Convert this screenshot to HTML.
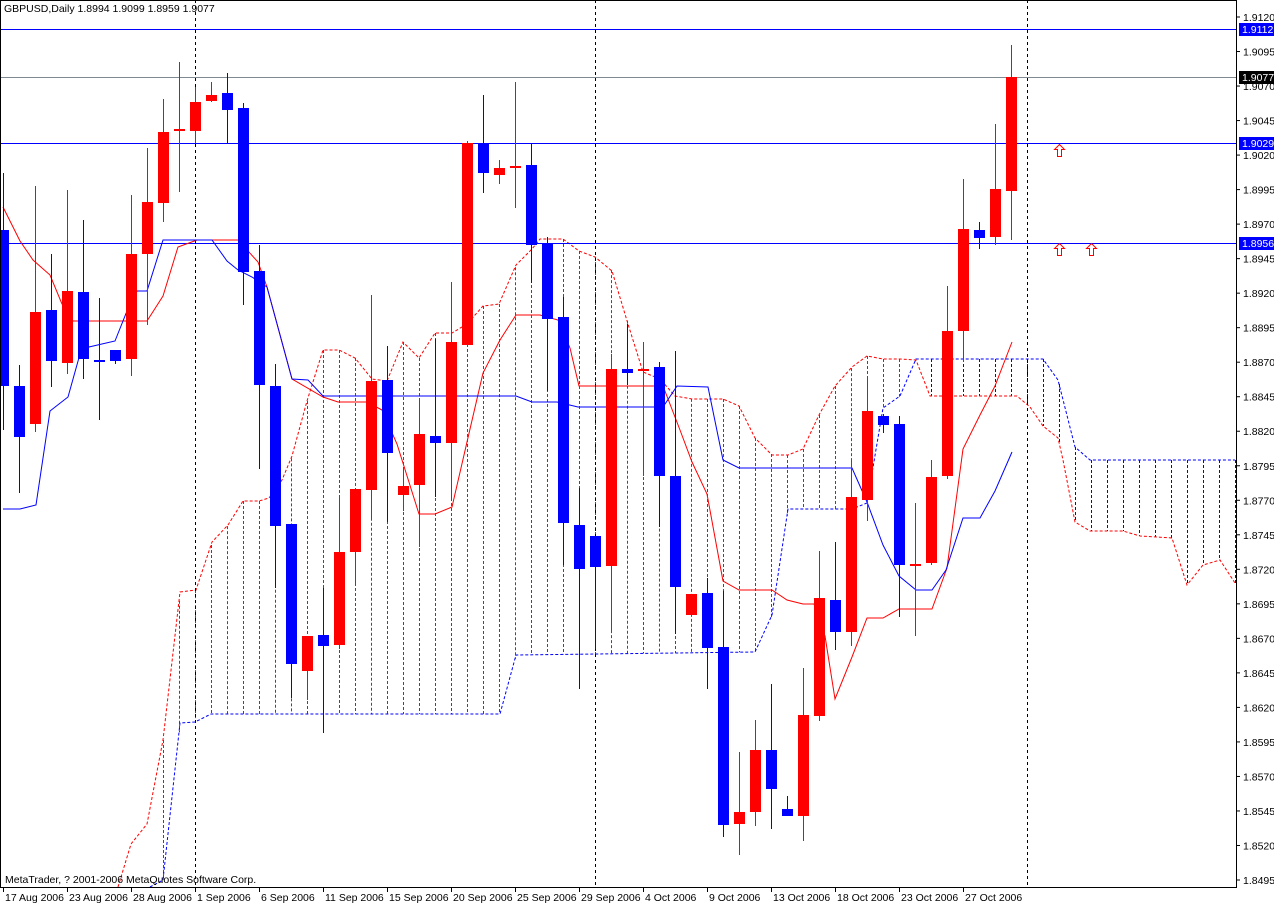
<!DOCTYPE html>
<html><head><meta charset="utf-8">
<style>
html,body{margin:0;padding:0;background:#fff;}
#c{position:absolute;left:0;top:0;}
</style></head>
<body>
<svg id="c" width="1274" height="905" xmlns="http://www.w3.org/2000/svg" font-family="Liberation Sans, sans-serif">
<rect x="0" y="0" width="1274" height="905" fill="#fff"/>
<g id="g"></g>
</svg>
<script>
var NS="http://www.w3.org/2000/svg";var g=document.getElementById("g");
function el(t,a,txt){var e=document.createElementNS(NS,t);for(var k in a)e.setAttribute(k,a[k]);if(txt!=null)e.textContent=txt;g.appendChild(e);return e;}
function pl(pts,col,dash,w){el("polyline",{points:pts.map(function(p){return p[0]+","+p[1]}).join(" "),fill:"none",stroke:col,"stroke-width":w||1,"stroke-dasharray":dash||"none"});}
function interp(P,x){if(x<P[0][0]||x>P[P.length-1][0])return null;for(var i=0;i<P.length-1;i++){if(x>=P[i][0]&&x<=P[i+1][0]){var t=(x-P[i][0])/((P[i+1][0]-P[i][0])||1);return P[i][1]+t*(P[i+1][1]-P[i][1]);}}return null;}
var A=[[118,887],[131,844],[147,824],[163,740],[180,592],[196,590],[212,542],[228,525],[243,501],[259,501],[269,498],[282,480],[292,456],[307,401],[323,350],[339,350],[355,358],[372,379],[387,381],[403,342],[419,358],[435,333],[452,333],[467,324],[483,306],[499,304],[516,265],[532,249],[540,239],[563,239],[579,251],[595,257],[612,271],[628,324],[643,372],[660,379],[675,396],[692,399],[723,399],[739,406],[755,438],[772,455],[788,455],[803,449],[819,415],[835,386],[852,367],[867,356],[883,359],[900,359],[916,360],[930,396],[1017,396],[1030,407],[1043,426],[1058,438],[1063,460],[1075,522],[1090,531],[1123,531],[1140,536],[1172,538],[1187,585],[1203,565],[1220,560],[1235,583]];
var B=[[150,887],[163,880],[180,723],[195,722],[211,714],[500,714],[516,655],[755,652],[772,615],[788,509],[852,509],[867,503],[883,408],[900,396],[916,359],[1043,359],[1058,380],[1075,447],[1090,460],[1235,460]];
for(var x=115;x<=1235;x+=16){var a=interp(A,x),b=interp(B,x);if(a==null||b==null)continue;var y1=Math.min(a,b),y2=Math.max(a,b);el("line",{x1:x+0.5,y1:y1,x2:x+0.5,y2:y2,stroke:(a<b?"#ff0000":"#0000ff"),"stroke-dasharray":"3,2"});}
pl(A,"#ff0000","3,2");pl(B,"#0000ff","3,2");
el("rect",{x:0,y:29,width:1236,height:1,fill:"#0000ff"});
el("rect",{x:0,y:77,width:1236,height:1,fill:"#808890"});
el("rect",{x:0,y:143,width:1236,height:1,fill:"#0000ff"});
el("rect",{x:0,y:243,width:1236,height:1,fill:"#0000ff"});
[195,595,1027].forEach(function(x){el("line",{x1:x+0.5,y1:0,x2:x+0.5,y2:887,stroke:"#000","stroke-dasharray":"3,3"});});
var T=[[3,207],[20,241],[33,260],[50,275],[62,304],[73,321],[147,321],[163,296],[178,247],[197,240],[238,240],[258,262],[267,287],[292,379],[323,397],[338,402],[367,402],[382,410],[397,444],[419,514],[435,514],[452,507],[467,442],[483,373],[500,340],[516,315],[540,315],[558,320],[570,348],[579,386],[663,386],[680,430],[692,462],[707,494],[723,581],[739,590],[772,590],[787,600],[803,604],[814,604],[825,636],[835,699],[852,657],[867,618],[883,618],[899,609],[932,609],[947,568],[963,449],[980,415],[995,386],[1012,342]];
var K=[[3,509],[20,509],[36,505],[50,411],[68,397],[80,354],[89,347],[115,341],[127,311],[137,291],[147,291],[163,240],[212,240],[227,261],[238,270],[252,277],[267,287],[292,379],[308,380],[323,396],[516,396],[532,402],[557,402],[578,407],[663,407],[677,386],[708,387],[723,460],[739,468],[852,468],[867,502],[883,545],[899,576],[916,590],[932,590],[946,570],[963,518],[980,518],[995,491],[1012,452]];
pl(T,"#ff0000");pl(K,"#0000ff");
var R="#ff0000",U="#0000ff";
var C=[[3,230,386,173,430,U],[19,386,437,365,493,U],[35,312,424,186,432,R],[51,310,361,254,387,U],[67,291,363,190,374,R],[83,292,359,220,379,U],[99,360,362,298,420,U],[115,350,361,350,364,U],[131,254,359,195,376,R],[147,202,254,148,325,R],[163,132,203,99,222,R],[179,129,131,62,192,R],[195,102,131,87,143,R],[211,95,101,82,102,R],[227,93,110,73,143,U],[243,108,272,103,305,U],[259,271,385,245,469,U],[275,386,526,364,588,U],[291,524,664,524,698,U],[307,636,671,636,700,R],[323,635,646,588,733,U],[339,552,645,495,649,R],[355,489,552,489,584,R],[371,381,490,295,519,R],[387,380,453,346,522,U],[403,486,495,468,511,R],[419,434,485,401,547,R],[435,436,443,339,497,U],[451,342,443,282,499,R],[467,143,345,141,345,R],[483,143,173,95,193,U],[499,168,175,160,184,R],[515,166,168,82,208,R],[531,165,245,143,283,U],[547,243,319,237,391,U],[563,317,523,297,565,U],[579,525,569,488,689,U],[595,536,567,536,649,U],[611,369,566,354,631,R],[627,369,373,324,385,U],[643,369,371,342,476,R],[659,367,476,362,527,U],[675,476,587,351,634,U],[691,594,615,594,615,R],[707,593,648,578,689,U],[723,647,825,591,837,U],[739,812,824,752,855,R],[755,750,812,720,826,R],[771,750,789,684,829,U],[787,809,816,796,816,U],[803,715,816,668,841,R],[819,598,716,551,721,R],[835,600,632,542,650,U],[851,497,632,460,646,R],[867,411,500,378,521,R],[883,416,425,414,433,U],[899,424,565,416,617,U],[915,564,566,503,636,R],[931,477,563,460,565,R],[947,331,476,286,479,R],[963,229,331,179,362,R],[979,230,238,222,249,U],[995,189,237,124,245,R],[1011,77,191,45,240,R]];
C.forEach(function(c){var x=c[0];el("rect",{x:x,y:c[3],width:1,height:c[4]-c[3],fill:c[5]});var h=Math.max(2,c[2]-c[1]);el("rect",{x:x-5,y:c[1],width:11,height:h,fill:c[5]});});
function arrow(x,y){el("path",{d:"M"+x+" "+y+" l-5 5 h3 v7 h4 v-7 h3 z",fill:"#fff",stroke:"#ff0000","stroke-width":1});}
arrow(1059.5,144.5);arrow(1059.5,243.5);arrow(1091.5,243.5);
el("rect",{x:0,y:0,width:1236,height:887,fill:"none",stroke:"#000","stroke-width":1,transform:"translate(0.5,0.5)"});
for(var i=0;i<=25;i++){var p=1.9120-i*0.0025;var y=17+i*34.52;el("line",{x1:1237,y1:y,x2:1240,y2:y,stroke:"#000"});el("text",{x:1243,y:y+4,"font-size":"10.5",fill:"#000"},p.toFixed(4));}
function box(y,txt,bg){el("rect",{x:1239,y:y-6,width:35,height:13,fill:bg});el("text",{x:1242,y:y+4,"font-size":"10.5",fill:"#fff"},txt);}
box(29,"1.9112","#0000ff");box(77,"1.9077","#000");box(143,"1.9029","#0000ff");box(243,"1.8956","#0000ff");
var D=["17 Aug 2006","23 Aug 2006","28 Aug 2006","1 Sep 2006","6 Sep 2006","11 Sep 2006","15 Sep 2006","20 Sep 2006","25 Sep 2006","29 Sep 2006","4 Oct 2006","9 Oct 2006","13 Oct 2006","18 Oct 2006","23 Oct 2006","27 Oct 2006"];
D.forEach(function(d,i){var x=3+i*64;el("line",{x1:x+0.5,y1:887,x2:x+0.5,y2:892,stroke:"#000"});el("text",{x:x+2,y:901,"font-size":"10.5",fill:"#000"},d);});
el("text",{x:4,y:12,"font-size":"10.5",fill:"#000"},"GBPUSD,Daily  1.8994 1.9099 1.8959 1.9077");
el("text",{x:5,y:883,"font-size":"10.5",fill:"#000"},"MetaTrader, ? 2001-2006 MetaQuotes Software Corp.");
</script>
</body></html>
